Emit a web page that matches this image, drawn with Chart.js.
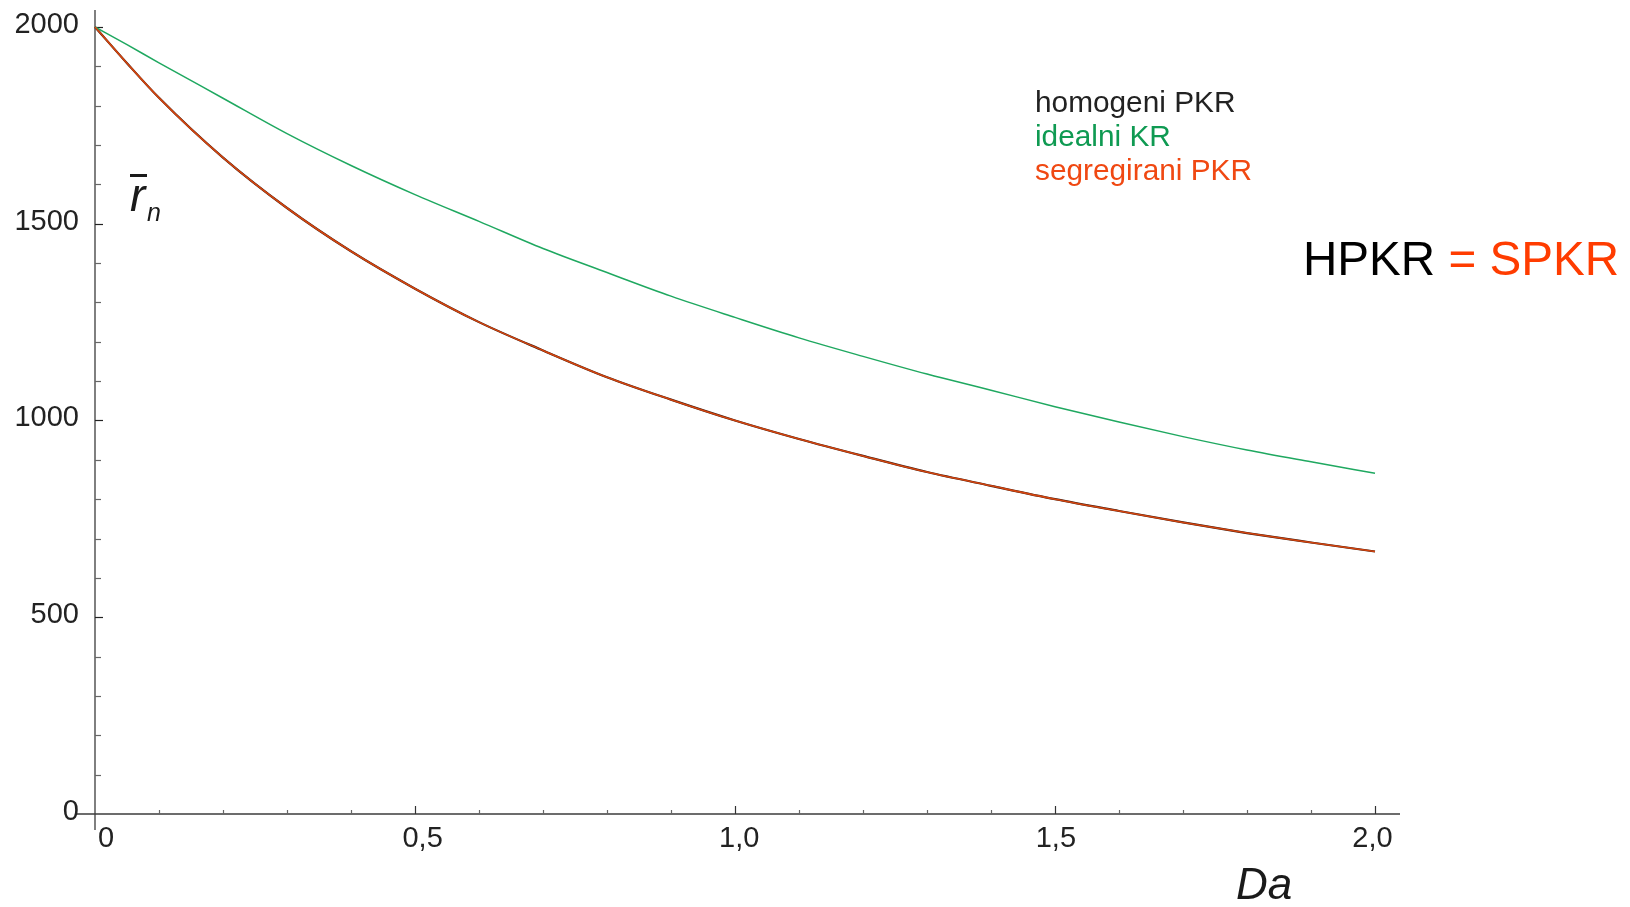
<!DOCTYPE html>
<html>
<head>
<meta charset="utf-8">
<script src="https://cdn.jsdelivr.net/npm/chart.js@4.4.1/dist/chart.umd.min.js"></script>
<style>
  html, body { margin: 0; padding: 0; background: #ffffff; }
  #wrap { width: 1630px; height: 907px; }
</style>
</head>
<body>
<div id="wrap"><canvas id="c" width="1630" height="907"></canvas></div>
<script>
// ---- data ----
const daValues       = [0, 0.05, 0.1, 0.2, 0.3, 0.4, 0.5, 0.6, 0.7, 0.8, 0.9, 1.0, 1.1, 1.2, 1.3, 1.4, 1.5, 1.6, 1.7, 1.8, 1.9, 2.0];
const idealniKR      = [2000, 1955, 1909, 1819, 1729, 1648, 1574, 1506, 1437, 1376, 1316, 1262, 1210, 1163, 1118, 1077, 1035, 996, 959, 925, 895, 866];
const segregiraniPKR = [2000, 1908, 1820, 1668, 1540, 1430, 1335, 1250, 1178, 1110, 1053, 1000, 953, 910, 869, 834, 800, 770, 741, 714, 690, 667];
const homogeniPKR    = segregiraniPKR.slice(); // HPKR = SPKR

const xTickValues = [0, 0.5, 1.0, 1.5, 2.0];
const xTickLabels = ['0', '0,5', '1,0', '1,5', '2,0'];
const yTickValues = [0, 500, 1000, 1500, 2000];
const yTickLabels = ['0', '500', '1000', '1500', '2000'];

const seriesNames = ['homogeni PKR', 'idealni KR', 'segregirani PKR'];
const xTitle = 'Da';

// ---- build ----
function pts(ys) { return daValues.map((x, i) => ({ x: x, y: ys[i] })); }

const FONT = '"Liberation Sans", Arial, Helvetica, sans-serif';

const axesPlugin = {
  id: 'axesPlugin',
  beforeDatasetsDraw(chart) {
    const ctx = chart.ctx, a = chart.chartArea;
    const xs = chart.scales.x, ys = chart.scales.y;
    const x0 = xs.getPixelForValue(0), y0 = ys.getPixelForValue(0);
    ctx.save();
    ctx.strokeStyle = '#3c3c3c';
    ctx.lineWidth = 1.3;
    // axis lines
    ctx.beginPath();
    ctx.moveTo(a.left, y0); ctx.lineTo(a.right, y0);
    ctx.moveTo(x0, a.top); ctx.lineTo(x0, a.bottom);
    ctx.stroke();
    // y ticks (inward, to the right)
    ctx.lineWidth = 1.2;
    for (let v = 100; v <= 2000; v += 100) {
      const major = v % 500 === 0;
      const y = Math.round(ys.getPixelForValue(v)) + 0.5;
      ctx.strokeStyle = major ? '#222' : '#666';
      ctx.beginPath(); ctx.moveTo(x0, y); ctx.lineTo(x0 + (major ? 8 : 6), y); ctx.stroke();
    }
    // x ticks (inward, upward)
    for (let k = 1; k <= 20; k++) {
      const v = k / 10;
      const major = k % 5 === 0;
      const x = Math.round(xs.getPixelForValue(v)) + 0.5;
      ctx.strokeStyle = major ? '#333' : '#666';
      ctx.beginPath(); ctx.moveTo(x, y0); ctx.lineTo(x, y0 - (major ? 8 : 4)); ctx.stroke();
    }
    // tick labels
    ctx.fillStyle = '#222';
    ctx.font = '29px ' + FONT;
    ctx.textAlign = 'right'; ctx.textBaseline = 'middle';
    yTickValues.forEach((v, i) => {
      ctx.fillText(yTickLabels[i], x0 - 16, ys.getPixelForValue(v) - 2);
    });
    ctx.textAlign = 'center'; ctx.textBaseline = 'alphabetic';
    xTickValues.forEach((v, i) => {
      ctx.fillText(xTickLabels[i], xs.getPixelForValue(v) + 11 - 6.75 * v, y0 + 33);
    });
    ctx.restore();
  },
  afterDraw(chart) {
    const ctx = chart.ctx;
    ctx.save();
    // axis titles
    ctx.fillStyle = '#1a1a1a';
    ctx.font = 'italic 44px ' + FONT;
    ctx.textAlign = 'left'; ctx.textBaseline = 'alphabetic';
    ctx.fillText(xTitle, 1236, 899);
    // r-bar with subscript n
    ctx.font = 'italic 46px ' + FONT;
    ctx.fillText('r', 130, 211);
    ctx.fillRect(130, 174, 17, 3);
    ctx.font = 'italic 25px ' + FONT;
    ctx.fillText('n', 147, 221);
    // legend texts
    ctx.font = '29.8px ' + FONT;
    ctx.fillStyle = '#222222'; ctx.fillText(seriesNames[0], 1035, 112);
    ctx.fillStyle = '#0f9a52'; ctx.fillText(seriesNames[1], 1035, 146);
    ctx.fillStyle = '#f04812'; ctx.fillText(seriesNames[2], 1035, 180);
    // HPKR = SPKR
    ctx.font = '47.6px ' + FONT;
    ctx.fillStyle = '#000000';
    ctx.fillText('HPKR', 1303, 275);
    let w = ctx.measureText('HPKR ').width;
    ctx.fillStyle = '#ff3c00';
    ctx.fillText('= SPKR', 1303 + w, 275);
    ctx.restore();
  }
};

new Chart(document.getElementById('c'), {
  type: 'line',
  data: {
    datasets: [
      { label: seriesNames[0], data: pts(homogeniPKR), borderColor: '#3a1a10', borderWidth: 2.2,
        pointRadius: 0, cubicInterpolationMode: 'monotone', order: 3 },
      { label: seriesNames[1], data: pts(idealniKR), borderColor: '#1fa860', borderWidth: 1.5,
        pointRadius: 0, cubicInterpolationMode: 'monotone', order: 2 },
      { label: seriesNames[2], data: pts(segregiraniPKR), borderColor: '#d4450f', borderWidth: 1.6,
        pointRadius: 0, cubicInterpolationMode: 'monotone', order: 1 }
    ]
  },
  options: {
    responsive: false,
    animation: false,
    devicePixelRatio: 1,
    layout: { padding: { left: 77, right: 230, top: 10, bottom: 77 } },
    plugins: { legend: { display: false }, tooltip: { enabled: false } },
    scales: {
      x: { type: 'linear', display: false, min: -0.028125, max: 2.0390625 },
      y: { type: 'linear', display: false, min: -40.66, max: 2043.2 }
    }
  },
  plugins: [axesPlugin]
});
</script>
</body>
</html>
